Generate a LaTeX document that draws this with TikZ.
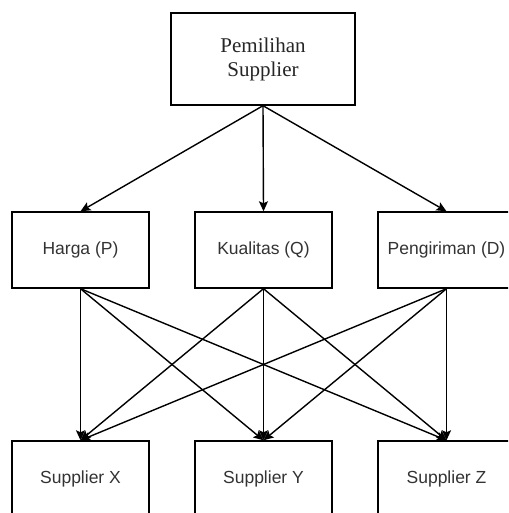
\documentclass[tikz,border=0pt]{standalone}
\usepackage{fontspec}
\setmainfont{Liberation Serif}
\newfontfamily\sansf{Liberation Sans}
\usetikzlibrary{arrows.meta}
\tikzset{
  boxs/.style={draw=black, line width=1.4pt, minimum width=137pt, minimum height=76pt, inner sep=0pt, font=\sansf\fontsize{17.5}{20}\selectfont, text=black!80},
  topbox/.style={draw=black, line width=1.4pt, minimum width=184pt, minimum height=92pt, inner sep=0pt, align=center, font=\fontsize{21}{24}\selectfont, text=black!85},
  conn/.style={line width=1.4pt, draw=black, -{Stealth[length=10pt,width=9pt,inset=2pt]}}
}
\begin{document}
\begin{tikzpicture}[x=1pt,y=-1pt]
\useasboundingbox (0,0) rectangle (508,513);
\clip (0,0) rectangle (508,513);
\fill[white] (0,0) rectangle (508,513);
\node[topbox] (top) at (263,59) {Pemilihan\\Supplier};
\node[boxs] (p) at (80.5,250) {Harga (P)};
\node[boxs] (q) at (263.5,250) {Kualitas (Q)};
\node[boxs] (d) at (446.5,250) {Pengiriman (D)};
\node[boxs] (x) at (80.5,479) {Supplier X};
\node[boxs] (y) at (263.5,479) {Supplier Y};
\node[boxs] (z) at (446.5,479) {Supplier Z};
\draw[conn] (top.south) -- (p.north);
\draw[conn] (top.south) -- (q.north);
\draw[conn] (top.south) -- (d.north);
\foreach \a in {p,q,d}{
  \foreach \b in {x,y,z}{
    \draw[conn] (\a.south) -- (\b.north);
  }
}
\end{tikzpicture}
\end{document}
